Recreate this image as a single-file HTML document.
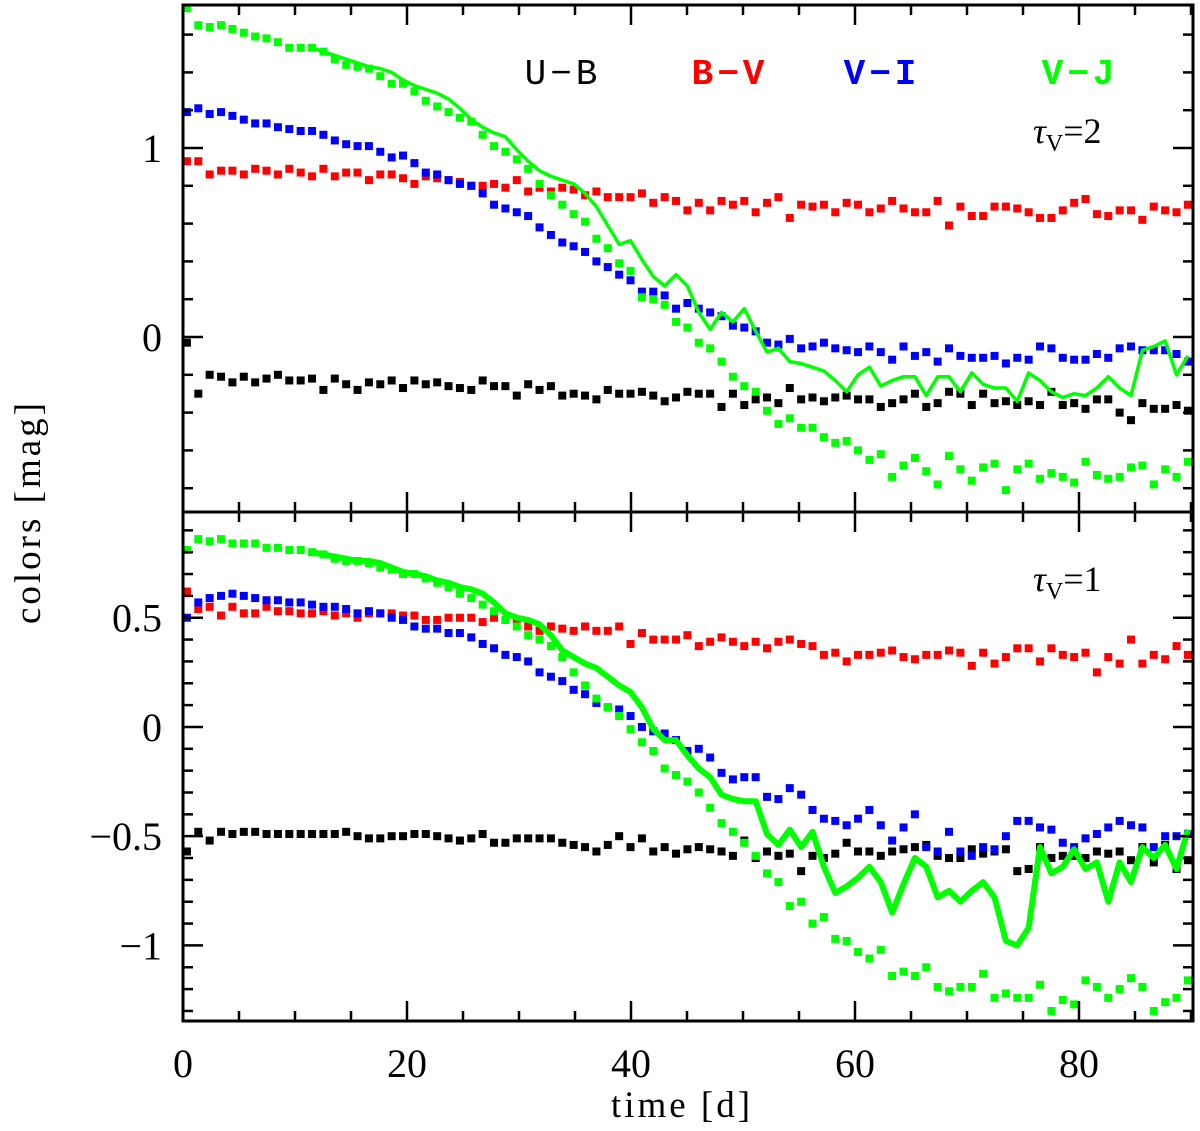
<!DOCTYPE html>
<html><head><meta charset="utf-8"><style>
body{margin:0;background:#fff}
svg{display:block}
text{font-family:"Liberation Serif",serif;font-size:40px;fill:#000}
.leg{font-family:"Liberation Mono",monospace;font-size:36px;letter-spacing:4px}
</style></head><body>
<div style="position:relative;width:1200px;height:1131px">
<svg id="chart" width="1200" height="1131" viewBox="0 0 1200 1131" xmlns="http://www.w3.org/2000/svg" style="position:absolute;left:0;top:0">
<text x="682" y="1117" text-anchor="middle" style="font-size:37px;letter-spacing:3px">time [d]</text>
<text transform="translate(40,512) rotate(-90)" text-anchor="middle" style="font-size:37px;letter-spacing:3px">colors [mag]</text>
<text class="leg" x="563" y="84" text-anchor="middle">U−B</text>
<text class="leg" x="730" y="84" text-anchor="middle" style="fill:#f00;font-weight:bold">B−V</text>
<text class="leg" x="882" y="84" text-anchor="middle" style="fill:#00f;font-weight:bold">V−I</text>
<text class="leg" x="1080" y="84" text-anchor="middle" style="fill:#0f0;font-weight:bold">V−J</text>
<text x="1033" y="143" style="font-size:36px"><tspan font-style="italic">τ</tspan><tspan font-size="24" dy="8">V</tspan><tspan dy="-8">=2</tspan></text>
<text x="1033" y="591" style="font-size:36px"><tspan font-style="italic">τ</tspan><tspan font-size="24" dy="8">V</tspan><tspan dy="-8">=1</tspan></text>
</svg>
</div>
<script>
const t0 = 0.35, dt = 1.0156;
const xTicks = [0,20,40,60,80];
const topTicks = [0,1];
const botTicks = [-1,-0.5,0,0.5];
const topUB = [-0.03,-0.30,-0.20,-0.21,-0.24,-0.21,-0.24,-0.22,-0.20,-0.23,-0.23,-0.22,-0.28,-0.22,-0.25,-0.28,-0.24,-0.25,-0.23,-0.27,-0.23,-0.25,-0.24,-0.26,-0.27,-0.28,-0.23,-0.26,-0.26,-0.31,-0.25,-0.28,-0.26,-0.31,-0.30,-0.31,-0.33,-0.28,-0.30,-0.30,-0.29,-0.31,-0.34,-0.32,-0.29,
 -0.30,-0.30,-0.37,-0.30,-0.36,-0.33,-0.32,-0.35,-0.27,-0.33,-0.32,-0.34,-0.32,-0.31,-0.33,-0.33,-0.37,-0.35,-0.33,-0.30,-0.37,-0.35,-0.29,-0.30,-0.36,-0.30,-0.35,-0.34,-0.36,-0.34,-0.36,-0.29,-0.36,-0.35,-0.38,-0.33,-0.33,-0.40,-0.44,-0.35,-0.38,-0.38,-0.36,-0.39];
const topBV = [0.93,0.93,0.86,0.88,0.88,0.86,0.89,0.88,0.86,0.89,0.87,0.85,0.89,0.85,0.87,0.87,0.83,0.86,0.86,0.84,0.81,0.85,0.84,0.83,0.82,0.80,0.80,0.81,0.79,0.83,0.77,0.79,0.77,0.79,0.78,0.75,0.77,0.74,0.74,0.74,0.76,0.71,0.74,0.72,0.67,
 0.71,0.67,0.72,0.70,0.72,0.66,0.71,0.74,0.63,0.70,0.69,0.70,0.66,0.71,0.70,0.66,0.68,0.72,0.68,0.66,0.66,0.72,0.59,0.69,0.64,0.64,0.69,0.69,0.68,0.66,0.63,0.63,0.67,0.71,0.73,0.65,0.64,0.67,0.67,0.62,0.69,0.67,0.66,0.70];
const topVI = [1.19,1.21,1.18,1.19,1.17,1.15,1.13,1.13,1.11,1.10,1.09,1.09,1.07,1.04,1.02,1.01,1.01,0.98,0.95,0.96,0.92,0.87,0.86,0.83,0.81,0.80,0.76,0.70,0.68,0.66,0.64,0.58,0.54,0.50,0.48,0.45,0.40,0.37,0.33,0.30,0.24,0.24,0.22,0.15,0.18,
 0.15,0.13,0.11,0.06,0.05,0.03,-0.03,-0.04,-0.01,-0.06,-0.05,-0.03,-0.06,-0.07,-0.08,-0.05,-0.08,-0.12,-0.05,-0.10,-0.08,-0.13,-0.06,-0.10,-0.11,-0.11,-0.10,-0.14,-0.11,-0.12,-0.05,-0.06,-0.11,-0.12,-0.12,-0.09,-0.11,-0.06,-0.05,-0.07,-0.07,-0.07,-0.09,-0.13];
const topVJ = [1.74,1.65,1.64,1.65,1.63,1.61,1.59,1.58,1.56,1.53,1.53,1.53,1.51,1.47,1.44,1.43,1.42,1.38,1.34,1.34,1.30,1.25,1.22,1.19,1.16,1.14,1.07,1.01,0.98,0.94,0.89,0.81,0.75,0.70,0.65,0.61,0.52,0.47,0.39,0.35,0.21,0.20,0.17,0.08,0.05,
 -0.03,-0.06,-0.13,-0.21,-0.26,-0.29,-0.39,-0.46,-0.43,-0.48,-0.48,-0.53,-0.56,-0.55,-0.60,-0.65,-0.62,-0.74,-0.68,-0.64,-0.71,-0.78,-0.63,-0.70,-0.76,-0.69,-0.67,-0.81,-0.70,-0.67,-0.75,-0.72,-0.74,-0.77,-0.66,-0.73,-0.75,-0.74,-0.69,-0.68,-0.78,-0.70,-0.74,-0.66];
const topLine = [null,null,null,null,null,null,null,null,null,null,null,
 1.53,1.51,1.49,1.47,1.45,1.43,1.42,1.40,1.36,1.33,1.31,1.29,1.26,1.21,1.15,1.11,1.08,1.06,0.99,0.93,0.88,0.85,0.83,0.81,0.76,0.69,0.59,0.49,0.51,0.41,0.32,0.27,0.33,0.27,
 0.13,0.04,0.13,0.08,0.15,0.03,-0.08,-0.06,-0.13,-0.14,-0.16,-0.18,-0.23,-0.29,-0.20,-0.16,-0.26,-0.23,-0.21,-0.21,-0.31,-0.21,-0.21,-0.29,-0.19,-0.25,-0.27,-0.27,-0.34,-0.19,-0.23,-0.29,-0.32,-0.30,-0.31,-0.27,-0.21,-0.27,-0.31,-0.07,-0.05,-0.02,-0.20,-0.10];
const botUB = [-0.57,-0.48,-0.52,-0.48,-0.49,-0.48,-0.48,-0.49,-0.49,-0.49,-0.49,-0.49,-0.49,-0.49,-0.48,-0.50,-0.51,-0.51,-0.50,-0.50,-0.49,-0.49,-0.50,-0.51,-0.52,-0.51,-0.49,-0.53,-0.53,-0.51,-0.51,-0.51,-0.51,-0.53,-0.54,-0.55,-0.57,-0.54,-0.50,-0.55,-0.51,-0.57,-0.55,-0.58,-0.56,
 -0.55,-0.56,-0.57,-0.59,-0.52,-0.60,-0.57,-0.59,-0.58,-0.66,-0.59,-0.60,-0.58,-0.53,-0.57,-0.57,-0.59,-0.57,-0.56,-0.55,-0.54,-0.59,-0.60,-0.60,-0.56,-0.58,-0.57,-0.56,-0.66,-0.65,-0.55,-0.60,-0.59,-0.59,-0.60,-0.57,-0.58,-0.57,-0.61,-0.55,-0.62,-0.54,-0.65,-0.61];
const botBV = [0.62,0.54,0.55,0.51,0.55,0.52,0.52,0.55,0.53,0.53,0.52,0.52,0.53,0.51,0.52,0.50,0.52,0.52,0.52,0.51,0.51,0.49,0.49,0.50,0.50,0.50,0.48,0.50,0.49,0.49,0.46,0.44,0.46,0.45,0.44,0.46,0.44,0.44,0.46,0.38,0.43,0.40,0.40,0.40,0.42,
 0.37,0.39,0.41,0.39,0.37,0.39,0.36,0.39,0.40,0.38,0.37,0.33,0.34,0.30,0.33,0.33,0.34,0.35,0.32,0.31,0.33,0.33,0.35,0.34,0.28,0.34,0.29,0.32,0.36,0.36,0.30,0.36,0.33,0.32,0.34,0.25,0.32,0.29,0.40,0.29,0.33,0.31,0.37,0.33];
const botVI = [0.50,0.57,0.59,0.60,0.61,0.60,0.59,0.58,0.58,0.57,0.57,0.56,0.55,0.55,0.54,0.52,0.53,0.52,0.50,0.49,0.46,0.45,0.45,0.43,0.43,0.41,0.38,0.36,0.33,0.32,0.30,0.25,0.23,0.21,0.17,0.15,0.11,0.09,0.08,0.05,0.00,-0.02,-0.03,-0.06,-0.11,
 -0.10,-0.14,-0.21,-0.24,-0.23,-0.23,-0.32,-0.33,-0.28,-0.31,-0.38,-0.42,-0.43,-0.45,-0.42,-0.38,-0.45,-0.52,-0.46,-0.40,-0.55,-0.57,-0.48,-0.57,-0.59,-0.55,-0.56,-0.50,-0.43,-0.43,-0.46,-0.47,-0.53,-0.55,-0.51,-0.49,-0.46,-0.43,-0.45,-0.46,-0.55,-0.50,-0.50,-0.49];
const botVJ = [0.81,0.86,0.85,0.86,0.84,0.84,0.84,0.82,0.82,0.81,0.81,0.80,0.79,0.77,0.76,0.76,0.75,0.73,0.72,0.70,0.70,0.68,0.66,0.64,0.61,0.59,0.56,0.53,0.49,0.46,0.42,0.40,0.37,0.32,0.25,0.19,0.13,0.09,0.05,-0.01,-0.07,-0.11,-0.19,-0.22,-0.25,
 -0.30,-0.37,-0.44,-0.48,-0.53,-0.59,-0.67,-0.71,-0.82,-0.80,-0.90,-0.87,-0.97,-0.98,-1.03,-1.06,-1.02,-1.14,-1.12,-1.14,-1.10,-1.19,-1.21,-1.19,-1.19,-1.13,-1.24,-1.22,-1.24,-1.24,-1.18,-1.30,-1.25,-1.27,-1.16,-1.19,-1.24,-1.20,-1.15,-1.19,-1.30,-1.26,-1.24,-1.16];
const botLine = [null,null,null,null,null,null,null,null,null,null,null,
 0.80,0.79,0.78,0.77,0.76,0.76,0.75,0.73,0.71,0.70,0.69,0.67,0.66,0.64,0.63,0.61,0.57,0.52,0.50,0.49,0.47,0.42,0.35,0.32,0.29,0.27,0.23,0.19,0.16,0.09,-0.01,-0.06,-0.06,-0.13,
 -0.19,-0.23,-0.31,-0.33,-0.34,-0.34,-0.49,-0.54,-0.47,-0.55,-0.48,-0.64,-0.76,-0.73,-0.69,-0.64,-0.71,-0.85,-0.72,-0.60,-0.64,-0.78,-0.75,-0.80,-0.75,-0.71,-0.78,-0.98,-1.00,-0.92,-0.55,-0.67,-0.64,-0.56,-0.65,-0.62,-0.80,-0.62,-0.71,-0.55,-0.60,-0.54,-0.65,-0.47];

const NS="http://www.w3.org/2000/svg";
const svg=document.getElementById('chart');
const X0=183,X1=1193;
const xs=v=>X0+v*11.2;
const topP={y0:5,y1:512,vmax:1.7566,vmin:-0.9259};
const botP={y0:512,y1:1021,vmax:0.984,vmin:-1.346};
const ys=(p,v)=>p.y0+(p.vmax-v)/(p.vmax-p.vmin)*(p.y1-p.y0);
function el(tag,attrs,parent){const e=document.createElementNS(NS,tag);for(const k in attrs)e.setAttribute(k,attrs[k]);(parent||svg).appendChild(e);return e;}

function panel(p,series,line,lw,ticks,minorStep,name){
  const g=el('g',{});
  
  
  const colors=['#000','#f00','#00f','#0f0'];
  const names=['u-b','b-v','v-i','v-j'];
  series.forEach((arr,si)=>{
    const sg=el('g',{fill:colors[si]},g);
    
    
    arr.forEach((v,i)=>{
      const r=el('rect',{x:xs(t0+dt*i)-4,y:ys(p,v)-4,width:8,height:8},sg);
      
      
    });
  });
  const pts=[];
  line.forEach((v,i)=>{ if(v!==null) pts.push(xs(t0+dt*i).toFixed(1)+','+ys(p,v).toFixed(1)); });
  const pl=el('polyline',{points:pts.join(' '),fill:'none',stroke:'#0f0','stroke-width':lw,'stroke-linejoin':'round'},g);
  
  
  el('rect',{x:X0,y:p.y0,width:X1-X0,height:p.y1-p.y0,fill:'none',stroke:'#000','stroke-width':3},g);
  const n0=Math.ceil(p.vmin/minorStep-1e-6), n1=Math.floor(p.vmax/minorStep+1e-6);
  for(let n=n0;n<=n1;n++){
    const v=n*minorStep, y=ys(p,v), maj=ticks.some(t=>Math.abs(t-v)<1e-6);
    const L=maj?20:10;
    el('line',{x1:X0,x2:X0+L,y1:y,y2:y,stroke:'#000','stroke-width':2.5},g);
    el('line',{x1:X1,x2:X1-L,y1:y,y2:y,stroke:'#000','stroke-width':2.5},g);
  }
  ticks.forEach(v=>{
    const tx=el('text',{x:162,y:ys(p,v)+14,'text-anchor':'end'},g);
    tx.textContent=(v<0?'\u2212':'')+Math.abs(v);
    
    
  });
  for(let v=0;v<=90;v+=5){
    const x=xs(v), L=(v%20===0)?20:10;
    el('line',{x1:x,x2:x,y1:p.y1,y2:p.y1-L,stroke:'#000','stroke-width':2.5},g);
    el('line',{x1:x,x2:x,y1:p.y0,y2:p.y0+L,stroke:'#000','stroke-width':2.5},g);
  }
}
panel(topP,[topUB,topBV,topVI,topVJ],topLine,3.5,topTicks,0.2,'top-panel');
panel(botP,[botUB,botBV,botVI,botVJ],botLine,6,botTicks,0.1,'bottom-panel');

xTicks.forEach(v=>{
  const tx=el('text',{x:xs(v),y:1077,'text-anchor':'middle'});
  tx.textContent=v;
  
  
});
</script>
</body></html>
